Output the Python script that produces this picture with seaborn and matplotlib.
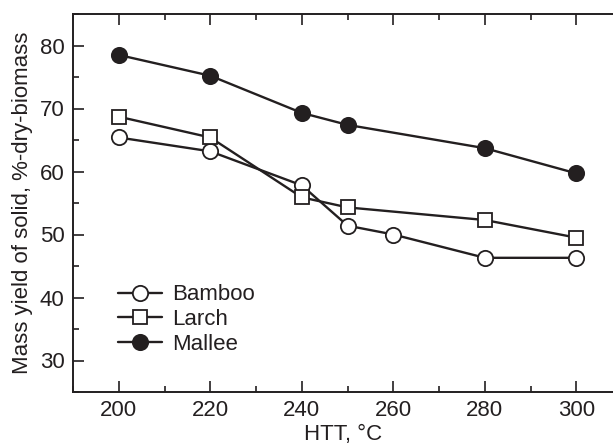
import matplotlib
matplotlib.use("Agg")
import matplotlib.pyplot as plt
import seaborn as sns
import pandas as pd
from matplotlib.ticker import MultipleLocator

sns.set_theme(style="ticks")
plt.rcParams['font.family'] = ['Liberation Sans', 'DejaVu Sans']

bamboo_x = [200, 220, 240, 250, 260, 280, 300]
bamboo_y = [65.4, 63.2, 57.8, 51.4, 50.0, 46.3, 46.3]
larch_x = [200, 220, 240, 250, 280, 300]
larch_y = [68.7, 65.4, 55.9, 54.3, 52.3, 49.5]
mallee_x = [200, 220, 240, 250, 280, 300]
mallee_y = [78.5, 75.2, 69.3, 67.4, 63.7, 59.7]

ink = '#231f20'
fs = 16

fig = plt.figure(figsize=(6.13, 4.47), dpi=100)
ax = fig.add_axes([73/613, 1 - 392/447, 1 - 73/613, (392 - 14)/447])

series = [
    ("Bamboo", bamboo_x, bamboo_y, 'o', 'white', 11),
    ("Larch", larch_x, larch_y, 's', 'white', 10.5),
    ("Mallee", mallee_x, mallee_y, 'o', ink, 11),
]
for name, xs, ys, mk, fc, ms in series:
    df = pd.DataFrame({"x": xs, "y": ys})
    sns.lineplot(data=df, x="x", y="y", ax=ax, color=ink, lw=1.7,
                 marker=mk, markersize=ms, markerfacecolor=fc,
                 markeredgecolor=ink, markeredgewidth=1.3, label=name)

ax.set_xlim(190, 308)
ax.set_ylim(25, 85)
ax.xaxis.set_major_locator(MultipleLocator(20))
ax.xaxis.set_minor_locator(MultipleLocator(10))
ax.yaxis.set_major_locator(MultipleLocator(10))
ax.yaxis.set_minor_locator(MultipleLocator(5))
ax.set_yticks([30, 40, 50, 60, 70, 80])
ax.tick_params(which='both', direction='in', top=True, right=False,
               colors=ink, labelcolor=ink, width=1.2)
ax.tick_params(which='major', length=8, labelsize=fs, pad=6)
ax.tick_params(which='minor', length=4)
for s in ['left', 'bottom', 'top']:
    ax.spines[s].set_color(ink)
    ax.spines[s].set_linewidth(1.4)
ax.spines['right'].set_visible(False)

ax.set_xlabel("HTT, °C", fontsize=fs, color=ink, labelpad=2)
ax.set_ylabel("Mass yield of solid, %-dry-biomass", fontsize=fs, color=ink, labelpad=5)

leg = ax.legend(loc='lower left', bbox_to_anchor=(0.083, 0.098), frameon=False,
                fontsize=fs, handlelength=2.0, handletextpad=0.45,
                labelspacing=0.17, borderaxespad=0, borderpad=0)
for t in leg.get_texts():
    t.set_color(ink)

fig.savefig("out.png", dpi=100)
